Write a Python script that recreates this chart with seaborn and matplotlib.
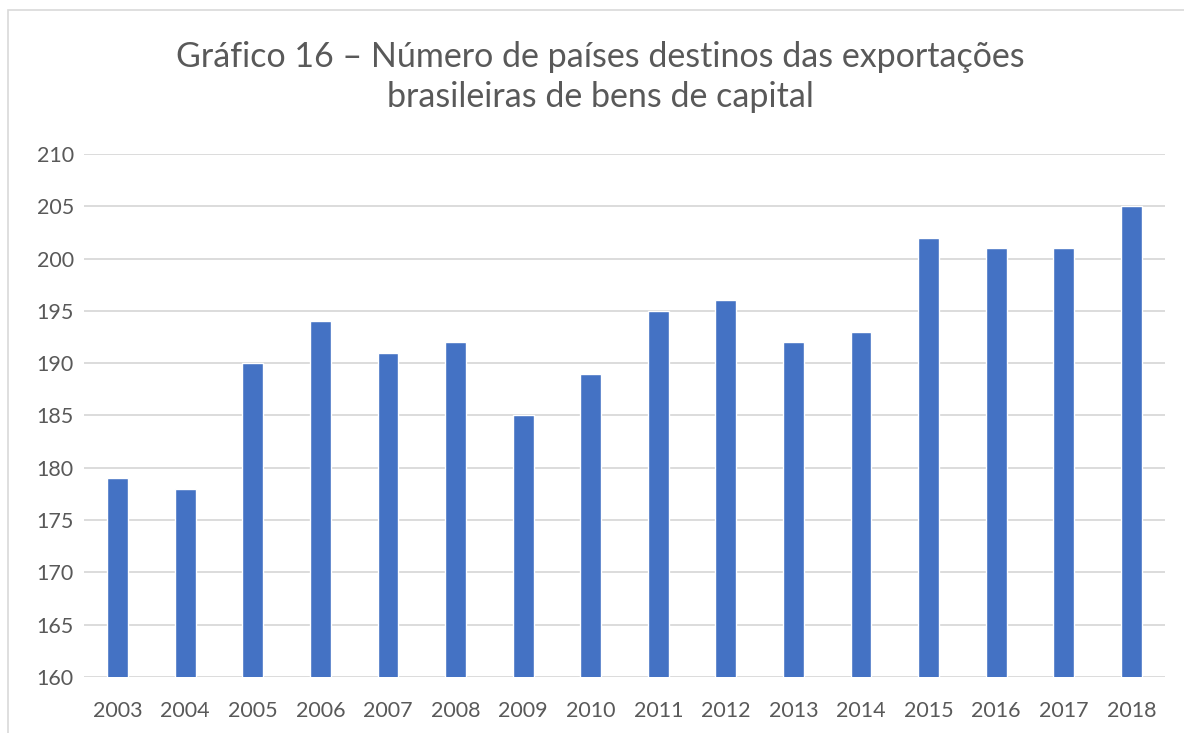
import matplotlib
matplotlib.use("Agg")
import matplotlib.pyplot as plt
import seaborn as sns
import pandas as pd
from matplotlib.patches import Rectangle

years = ["2003", "2004", "2005", "2006", "2007", "2008", "2009", "2010",
         "2011", "2012", "2013", "2014", "2015", "2016", "2017", "2018"]
values = [179, 178, 190, 194, 191, 192, 185, 189, 195, 196, 192, 193, 202, 201, 201, 205]
title = "Gráfico 16 – Número de países destinos das exportações\nbrasileiras de bens de capital"

sns.set_theme(style="white")
plt.rcParams['font.family'] = ['Lato', 'DejaVu Sans']

df = pd.DataFrame({"ano": years, "n": values})
fig = plt.figure(figsize=(11.84, 7.33), dpi=100)
ax = fig.add_axes([0.0709, 0.0764, 0.984 - 0.0709, 0.790 - 0.0764])

sns.barplot(data=df, x="ano", y="n", color="#4472C4", saturation=1, width=0.31, ax=ax, zorder=3)
ax.set_ylim(160, 210)
ax.set_yticks(range(160, 211, 5))
ax.set_xlim(-0.5, len(years) - 0.5)
ax.grid(axis="y", color="#D9D9D9", linewidth=1.3, zorder=0)
ax.set_axisbelow(True)
for s in ax.spines.values():
    s.set_visible(False)
ax.set_xlabel("")
ax.set_ylabel("")
ax.tick_params(axis="both", length=0, labelsize=15.5, colors="#595959")
ax.tick_params(axis="x", pad=17)
for lbl in ax.get_yticklabels():
    lbl.set_horizontalalignment("left")
ax.tick_params(axis="y", pad=34)

fig.text(0.507, 0.895, title, ha="center", va="center", fontsize=24.5, color="#595959", linespacing=1.3)

fig.patches.append(Rectangle((8 / 1184, -0.1), 1.2, 1 - 10 / 733 + 0.1, transform=fig.transFigure,
                             fill=False, edgecolor="#D9D9D9", linewidth=1.2))
fig.savefig("out.png", dpi=100)
